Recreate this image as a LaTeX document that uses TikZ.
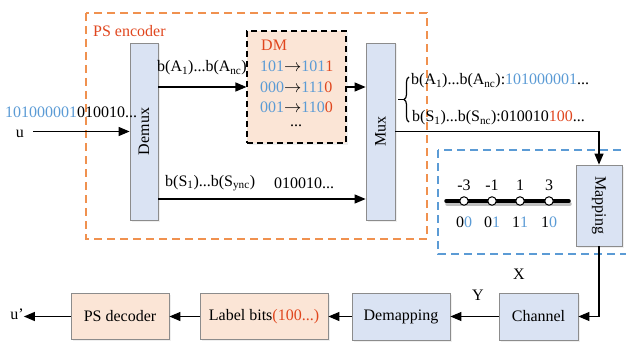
\documentclass[tikz,border=0pt]{standalone}
\usepackage{fontspec}
\setmainfont{Liberation Serif}
\usepackage{graphicx}
\usepackage{tikz}
\usetikzlibrary{positioning, arrows.meta, shadows, decorations.pathreplacing}
\definecolor{bitblue}{HTML}{5B9BD5}
\definecolor{bitred}{HTML}{E0461E}
\definecolor{encorange}{HTML}{F0914F}
\definecolor{boxblue}{HTML}{DAE3F3}
\definecolor{boxpeach}{HTML}{FBE5D6}
\definecolor{boxline}{HTML}{8C8C8C}
\tikzset{
  every node/.style={font=\fontsize{16}{19}\selectfont, inner sep=0pt},
  blk/.style={
    draw=boxline, line width=0.8pt,
    drop shadow={shadow xshift=1.5pt, shadow yshift=-1.5pt, fill=black!12}
  },
  bluebox/.style={blk, fill=boxblue},
  peachbox/.style={blk, fill=boxpeach},
  arr/.style={draw, line width=1.2pt, -{Triangle[length=11pt, width=9pt]}},
  frame/.style={line width=1.1pt, dash pattern=on 8pt off 5pt},
}
\newcommand{\bb}[1]{\textcolor{bitblue}{#1}}
\newcommand{\br}[1]{\textcolor{bitred}{#1}}

\begin{document}
\begin{tikzpicture}[x=1pt, y=-1pt]
  \useasboundingbox (0,0) rectangle (626,342);

  % dashed frames
  \draw[frame, encorange] (86,13) rectangle (427,239);
  \draw[frame, bitblue] (438,150) rectangle (640,254);
  \node[anchor=west, text=bitred] (enc) at (93,31) {PS encoder};

  % encoder blocks
  \node[bluebox, minimum width=28pt, minimum height=177pt]
                         (demux) at (144,131.5) {\rotatebox{90}{Demux}};
  \node[peachbox, draw=black, dash pattern=on 6pt off 4pt, line width=1.1pt,
        minimum width=99pt, minimum height=112pt]
                         (dm)    at (296.5,87)  {};
  \node[bluebox, minimum width=29pt, minimum height=177pt]
                         (mux)   at (380.5,131.5) {\rotatebox{90}{Mux}};

  \node[anchor=west, text=bitred] (dmtitle) at (261,45) {DM};
  \node[anchor=west] (dmra) at (260,66)  {\bb{101}$\rightarrow$\bb{101}\br{1}};
  \node[anchor=west] (dmrb) at (260,87)  {\bb{000}$\rightarrow$\bb{111}\br{0}};
  \node[anchor=west] (dmrc) at (260,107) {\bb{001}$\rightarrow$\bb{110}\br{0}};
  \node (dmdots) at (296,126) {...};

  % input
  \node (u)     at (20,134) {u};
  \node[anchor=west] (ubits) at (5,112) {\bb{101000001}010010...};
  \draw[arr] ([xshift=9pt]u.east |- demux.west) -- (demux.west);

  % demux to mux
  \coordinate (sy) at (0,199);
  \draw[arr] (demux.east |- dm.west) -- (dm.west);
  \node (alab) at (202,68) {b(A\textsubscript{1})...b(A\textsubscript{nc})};
  \draw[arr] (dm.east) -- (mux.west |- dm.east);
  \draw[arr] (demux.east |- sy) -- (mux.west |- sy);
  \node[anchor=west] (slab)  at (165,183) {b(S\textsubscript{1})...b(S\textsubscript{ync})};
  \node[anchor=west] (sbits) at (274,183) {010010...};

  % mux output
  \draw[line width=1.2pt, decorate, decoration={brace, amplitude=5pt}]
    (409,122) -- (409,77);
  \draw[line width=1.2pt] (398,99.5) -- (404,99.5);
  \node[anchor=west] (oa) at (411,81)
    {b(A\textsubscript{1})...b(A\textsubscript{nc}):\bb{101000001}...};
  \node[anchor=west] (os) at (412,118)
    {b(S\textsubscript{1})...b(S\textsubscript{nc}):010010\br{100}...};

  % mapping
  \node[bluebox, minimum width=46pt, minimum height=81pt]
                         (mapping) at (599,205.5) {\rotatebox{-90}{Mapping}};
  \draw[arr] (mux.east) -| (mapping.north);

  \draw[line width=3.5pt, line cap=round, black!25] (447,204) -- (570,204);
  \draw[line width=3.5pt, line cap=round] (446,201) -- (569,201);
  \foreach \px/\lev/\ba/\bz [count=\i] in {464/-3/0/0, 492/-1/0/1, 520/1/1/1, 549/3/1/0} {
    \node[circle, draw, fill=white, line width=1pt, minimum size=8.5pt] (pt\i) at (\px,201) {};
    \node (lev\i) at (\px,185) {\lev};
    \node (lab\i) at (\px,222) {\ba\bb{\bz}};
  }

  % receiver chain
  \node[bluebox, minimum width=79pt, minimum height=47pt]  (channel) at (538.5,316.5) {Channel};
  \node[bluebox, minimum width=98pt, minimum height=47pt]  (demap)   at (401,316.5)   {Demapping};
  \node[peachbox, minimum width=128pt, minimum height=46pt] (label)  at (264,316.5)   {Label bits\br{(100...)}};
  \node[peachbox, minimum width=98pt, minimum height=46pt]  (dec)    at (120,316.5)   {PS decoder};
  \node (uout) at (17,314) {u'};

  \draw[arr] (mapping.south) |- (channel.east);
  \node (xlab) at (519,274) {X};
  \draw[arr] (channel.west) -- (demap.east);
  \node (ylab) at (478,295) {Y};
  \draw[arr] (demap.west) -- (label.east);
  \draw[arr] (label.west) -- (dec.east);
  \draw[arr] (dec.west) -- (dec.west -| uout.east);
\end{tikzpicture}
\end{document}
